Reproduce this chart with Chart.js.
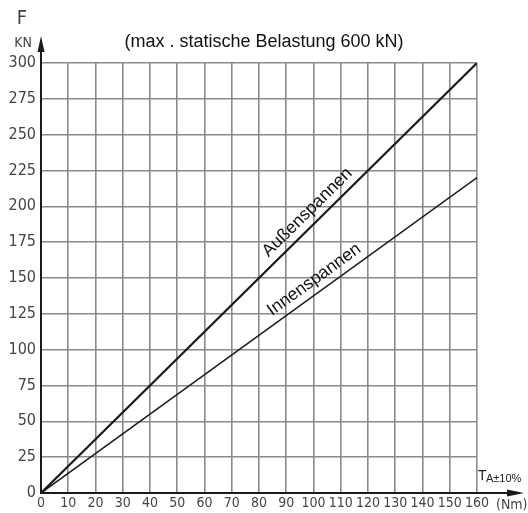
<!DOCTYPE html>
<html><head><meta charset="utf-8">
<script src="https://cdn.jsdelivr.net/npm/chart.js@4/dist/chart.umd.min.js"></script>
<style>html,body{margin:0;padding:0;background:#fff}#wrap{width:528px;height:513px}</style>
</head><body><div id="wrap"><canvas id="c" width="528" height="513"></canvas></div>
<script>
const torqueNm = [0, 160];
const aussenKN = [0, 300];
const innenKN = [0, 220];
const seriesNames = ['Außenspannen', 'Innenspannen'];
const chartTitle = '(max . statische Belastung 600 kN)';
const yAxisName = ['F', 'KN'];
const xAxisName = 'T';
const xAxisSub = 'A±10%';
const xUnit = '(Nm)';

const condFam = "'DejaVu Sans Condensed','DejaVu Sans',sans-serif";

const deco = {
  id: 'deco',
  afterDraw(chart) {
    const ctx = chart.ctx, xs = chart.scales.x, ys = chart.scales.y;
    const x0 = xs.getPixelForValue(0), y0 = ys.getPixelForValue(0);
    const xr = xs.getPixelForValue(160), yt = ys.getPixelForValue(300);
    ctx.save();
    ctx.strokeStyle = '#1a1a1a'; ctx.fillStyle = '#1a1a1a'; ctx.lineWidth = 2;
    ctx.beginPath(); ctx.moveTo(x0, y0); ctx.lineTo(x0, yt - 18); ctx.stroke();
    ctx.beginPath(); ctx.moveTo(x0, yt - 27); ctx.lineTo(x0 - 3.5, yt - 11); ctx.lineTo(x0 + 3.5, yt - 11); ctx.closePath(); ctx.fill();
    ctx.beginPath(); ctx.moveTo(x0, y0); ctx.lineTo(xr + 36, y0); ctx.stroke();
    ctx.beginPath(); ctx.moveTo(xr + 47, y0); ctx.lineTo(xr + 30, y0 - 3.5); ctx.lineTo(xr + 30, y0 + 3.5); ctx.closePath(); ctx.fill();
    ctx.fillStyle = '#444';
    ctx.font = "condensed 20px " + condFam;
    ctx.textAlign = 'center'; ctx.textBaseline = 'middle';
    ctx.fillText(yAxisName[0], x0 - 19, yt - 44);
    ctx.font = "condensed 14px " + condFam;
    ctx.fillText(yAxisName[1], x0 - 18, yt - 20);
    ctx.textAlign = 'left';
    ctx.font = "condensed 14px " + condFam;
    ctx.fillText(xUnit, xr + 19, y0 + 12);
    ctx.fillStyle = '#222';
    ctx.font = "14px 'Liberation Sans',Arial,sans-serif";
    ctx.fillText(xAxisName, xr + 1, y0 - 17);
    ctx.font = "11px 'Liberation Sans',Arial,sans-serif";
    ctx.fillText(xAxisSub, xr + 9, y0 - 14);
    ctx.fillStyle = '#111';
    ctx.font = "18px 'Liberation Sans',Arial,sans-serif";
    ctx.textAlign = 'center';
    ctx.fillText(chartTitle, 264, yt - 21);
    const drawLabel = (txt, xv, yv, x1, y1, off) => {
      const px = xs.getPixelForValue(xv), py = ys.getPixelForValue(yv);
      const ang = Math.atan2(ys.getPixelForValue(y1) - y0, xs.getPixelForValue(x1) - x0);
      ctx.save();
      ctx.translate(px, py); ctx.rotate(ang);
      ctx.font = "17.5px 'Liberation Sans',Arial,sans-serif";
      ctx.fillStyle = '#111'; ctx.textAlign = 'center'; ctx.textBaseline = 'bottom';
      ctx.fillText(txt, 0, -off);
      ctx.restore();
    };
    drawLabel(seriesNames[0], 101, 189.4, 160, 300, 4);
    drawLabel(seriesNames[1], 103, 141.6, 160, 220, 4);
    ctx.restore();
  }
};

new Chart(document.getElementById('c'), {
  type: 'line',
  data: {
    datasets: [
      {label: seriesNames[0], data: torqueNm.map((x, i) => ({x, y: aussenKN[i]})), borderColor: '#1a1a1a', borderWidth: 2.2, pointRadius: 0, fill: false},
      {label: seriesNames[1], data: torqueNm.map((x, i) => ({x, y: innenKN[i]})), borderColor: '#1a1a1a', borderWidth: 1.5, pointRadius: 0, fill: false}
    ]
  },
  options: {
    responsive: false, animation: false,
    layout: {padding: {left: 0, right: 51, top: 63, bottom: 0}},
    plugins: {legend: {display: false}, tooltip: {enabled: false}, title: {display: false}},
    scales: {
      x: {type: 'linear', min: 0, max: 160,
        ticks: {stepSize: 10, color: '#444', font: {family: condFam, size: 14, style: 'condensed'}, padding: 2, maxRotation: 0, autoSkip: false},
        grid: {color: '#8a8a8a', lineWidth: 1.6, drawTicks: false},
        border: {color: '#1a1a1a', width: 2},
        afterFit(s) { s.height = 20; }
      },
      y: {min: 0, max: 300,
        ticks: {stepSize: 25, color: '#444', font: {family: condFam, size: 16, style: 'condensed'}, padding: 5},
        grid: {color: '#8a8a8a', lineWidth: 1.6, drawTicks: false},
        border: {color: '#1a1a1a', width: 2},
        afterFit(s) { s.width = 41; }
      }
    }
  },
  plugins: [deco]
});
</script></body></html>
